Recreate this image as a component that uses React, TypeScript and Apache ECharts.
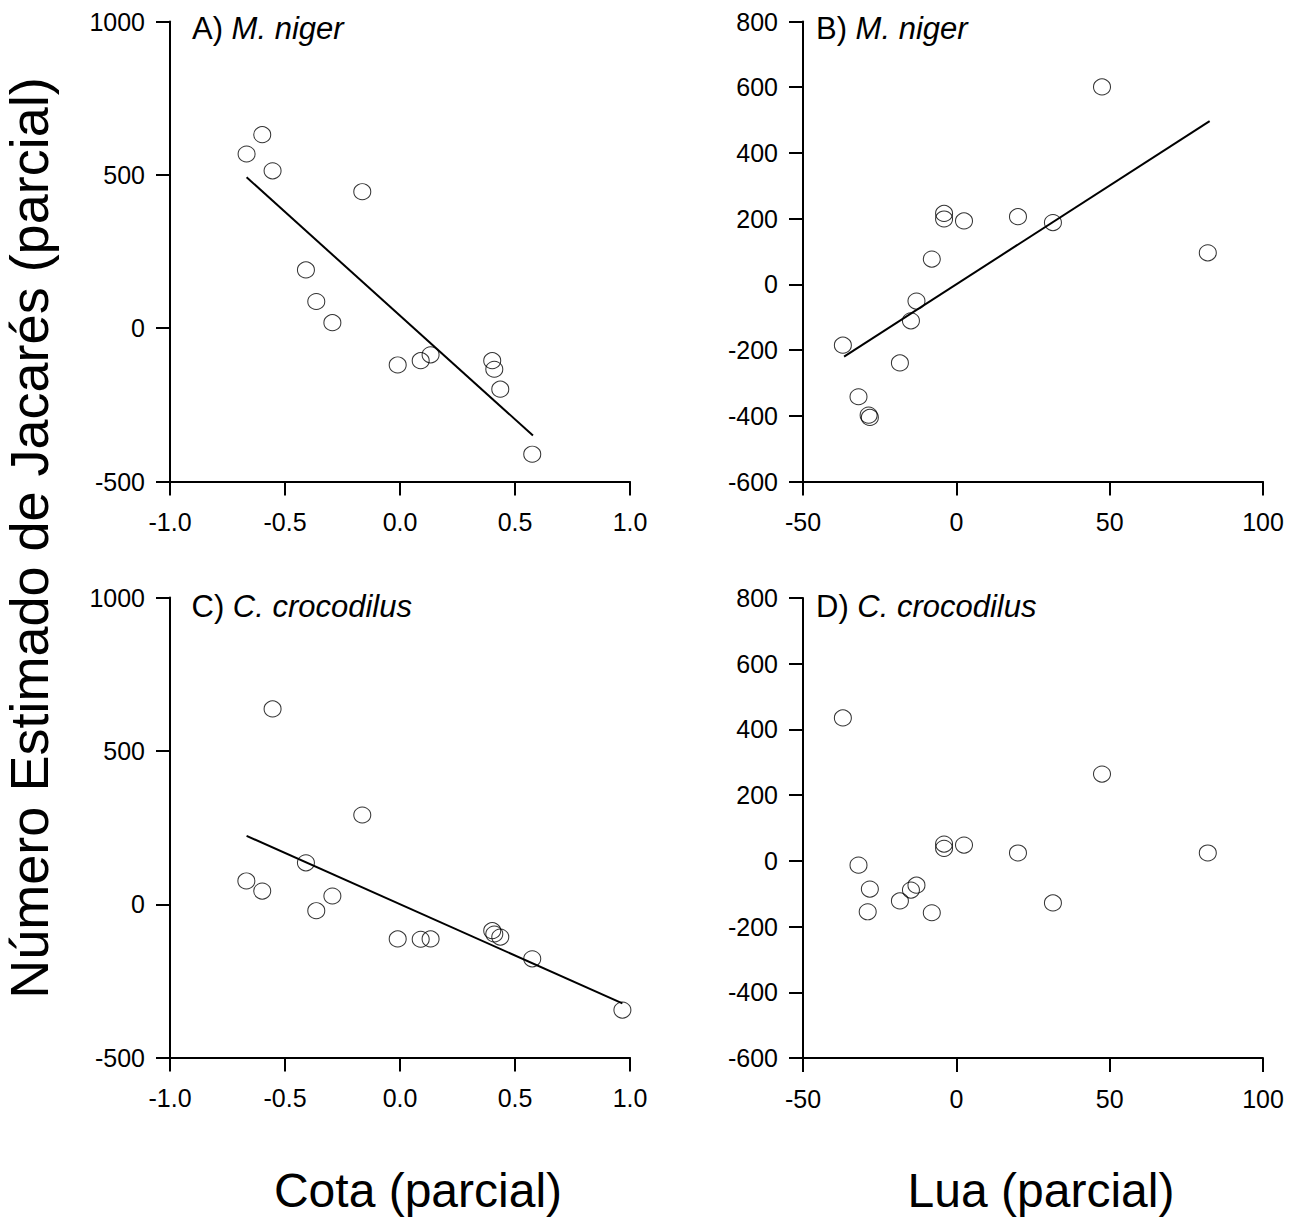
import React, { useEffect, useRef } from "react";
import * as echarts from "echarts";

// Panel A: M. niger vs Cota (parcial)
const xA = [-0.667, -0.599, -0.554, -0.164, -0.409, -0.364, -0.294, -0.010, 0.090, 0.133, 0.401, 0.410, 0.436, 0.575];
const yA = [568, 631, 513, 445, 190, 87, 18, -120, -106, -87, -106, -134, -199, -411];
const fitA = [[-0.667, 492], [0.578, -350]];

// Panel B: M. niger vs Lua (parcial)
const xB = [47.5, 82.0, -37.0, -31.9, -28.6, -28.2, -18.4, -14.8, -13.0, -8.0, -4.0, -4.0, 2.5, 20.1, 31.5];
const yB = [601, 96, -185, -342, -398, -405, -239, -111, -51, 77, 216, 199, 193, 206, 188];
const fitB = [[-36.6, -220], [82.6, 497]];

// Panel C: C. crocodilus vs Cota (parcial)
const xC = [-0.554, -0.164, -0.409, -0.668, -0.599, -0.294, -0.364, -0.010, 0.090, 0.133, 0.401, 0.410, 0.436, 0.575, 0.967];
const yC = [637, 291, 135, 76, 43, 27, -21, -113, -114, -113, -86, -97, -107, -178, -345];
const fitC = [[-0.667, 223], [0.967, -323]];

// Panel D: C. crocodilus vs Lua (parcial)
const xD = [-37.0, 47.5, 82.0, -31.9, -28.2, -28.9, -18.4, -14.8, -13.0, -8.0, -4.0, -4.0, 2.5, 20.1, 31.5];
const yD = [435, 264, 24, -13, -86, -155, -122, -89, -74, -158, 51, 38, 48, 24, -128];

const panelTitles = [
  ["A)", "M. niger"],
  ["B)", "M. niger"],
  ["C)", "C. crocodilus"],
  ["D)", "C. crocodilus"],
];
const yTitle = "Número Estimado de Jacarés (parcial)";
const xTitles = ["Cota (parcial)", "Lua (parcial)"];

const FONT = "'Liberation Sans', Arial, Helvetica, sans-serif";

const zip = (xs: number[], ys: number[]) => xs.map((x, i) => [x, ys[i]]);

export default function App() {
  const ref = useRef<HTMLDivElement>(null);
  useEffect(() => {
    if (!ref.current) return;
    const chart = echarts.init(ref.current, null, { renderer: "svg" });

    const grids = [
      { left: 170, top: 21.5, width: 460, height: 460 },
      { left: 803, top: 21.5, width: 460, height: 460 },
      { left: 170, top: 597.6, width: 460, height: 460 },
      { left: 803, top: 598, width: 460, height: 460 },
    ];

    const axisCommon = {
      axisLine: { show: true, onZero: false, lineStyle: { color: "#000", width: 2 } },
      axisTick: { show: true, inside: false, length: 14, lineStyle: { color: "#000", width: 2 } },
      splitLine: { show: false },
      axisLabel: { color: "#000", fontSize: 25, fontFamily: FONT },
    };

    const plain = (v: number) => String(v);

    const cotaX = (gi: number) => ({
      ...axisCommon,
      type: "value",
      gridIndex: gi,
      min: -1,
      max: 1,
      interval: 0.5,
      axisLabel: { ...axisCommon.axisLabel, margin: 28, formatter: (v: number) => v.toFixed(1) },
    });
    const luaX = (gi: number) => ({
      ...axisCommon,
      type: "value",
      gridIndex: gi,
      min: -50,
      max: 100,
      interval: 50,
      axisLabel: { ...axisCommon.axisLabel, margin: 28, formatter: plain },
    });
    const cotaY = (gi: number) => ({
      ...axisCommon,
      type: "value",
      gridIndex: gi,
      min: -500,
      max: 1000,
      interval: 500,
      axisLabel: { ...axisCommon.axisLabel, margin: 25, formatter: plain },
    });
    const luaY = (gi: number) => ({
      ...axisCommon,
      type: "value",
      gridIndex: gi,
      min: -600,
      max: 800,
      interval: 200,
      axisLabel: { ...axisCommon.axisLabel, margin: 25, formatter: plain },
    });

    const scatter = (idx: number, data: number[][]) => ({
      type: "scatter",
      xAxisIndex: idx,
      yAxisIndex: idx,
      data,
      symbol: "circle",
      symbolSize: [17, 16],
      itemStyle: { color: "rgba(0,0,0,0)", borderColor: "#000", borderWidth: 1 },
      z: 3,
    });
    const fit = (idx: number, data: number[][]) => ({
      type: "line",
      xAxisIndex: idx,
      yAxisIndex: idx,
      data,
      symbol: "none",
      lineStyle: { color: "#000", width: 2 },
      z: 2,
    });

    const titlePos = [
      [192, 28],
      [816, 28],
      [191.5, 606],
      [816, 606],
    ];

    const graphics: any[] = panelTitles.map((t, i) => ({
      type: "text",
      x: titlePos[i][0],
      y: titlePos[i][1],
      style: {
        text: `{n|${t[0]} }{i|${t[1]}}`,
        verticalAlign: "middle",
        align: "left",
        rich: {
          n: { fontSize: 31, fontFamily: FONT, fill: "#000" },
          i: { fontSize: 31, fontFamily: FONT, fontStyle: "italic", fill: "#000" },
        },
      },
    }));
    graphics.push({
      type: "text",
      x: 29,
      y: 538,
      rotation: Math.PI / 2,
      style: {
        text: yTitle,
        fontSize: 54,
        fontFamily: FONT,
        fill: "#000",
        align: "center",
        verticalAlign: "middle",
      },
    });
    graphics.push({
      type: "text",
      x: 418,
      y: 1190,
      style: { text: xTitles[0], fontSize: 48, fontFamily: FONT, fill: "#000", align: "center", verticalAlign: "middle" },
    });
    graphics.push({
      type: "text",
      x: 1041,
      y: 1190,
      style: { text: xTitles[1], fontSize: 48, fontFamily: FONT, fill: "#000", align: "center", verticalAlign: "middle" },
    });

    chart.setOption({
      animation: false,
      backgroundColor: "#fff",
      grid: grids,
      xAxis: [cotaX(0), luaX(1), cotaX(2), luaX(3)],
      yAxis: [cotaY(0), luaY(1), cotaY(2), luaY(3)],
      series: [
        scatter(0, zip(xA, yA)),
        fit(0, fitA),
        scatter(1, zip(xB, yB)),
        fit(1, fitB),
        scatter(2, zip(xC, yC)),
        fit(2, fitC),
        scatter(3, zip(xD, yD)),
      ],
      graphic: graphics,
    });

    return () => chart.dispose();
  }, []);

  return (
    <div
      ref={ref}
      style={{ position: "absolute", left: 0, top: 0, width: 1295, height: 1220, background: "#fff" }}
    />
  );
}
